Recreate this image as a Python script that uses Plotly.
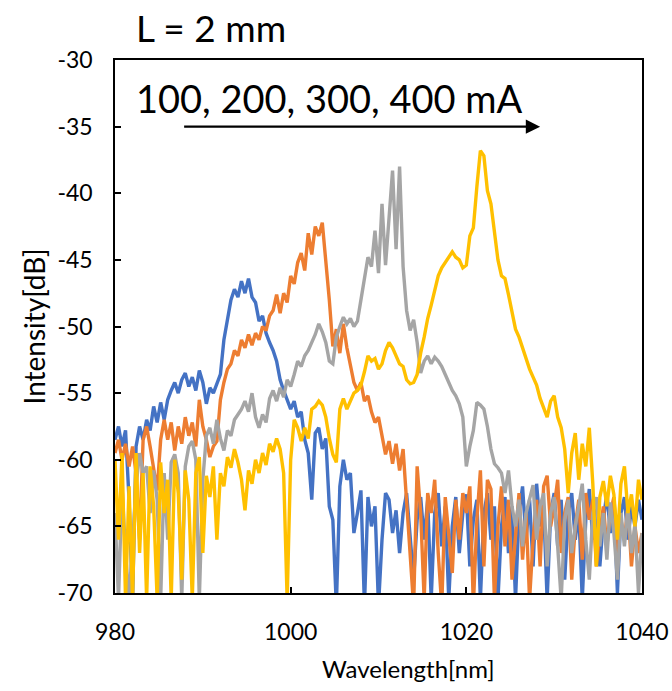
import numpy as np
import plotly.graph_objects as go

# Wavelength sampling (nm)
wavelength = np.round(np.arange(980.0, 1040.0001, 0.4), 1)

# Spectra in dB for each drive current
i_100mA = [
    -58.5, -57.5, -59, -57.8, -63, -70.5, -59, -57.5, -58.5, -57,
    -57.8, -56, -57.2, -55.7, -57, -55.5, -54.8, -54.2, -55, -54,
    -53.5, -54.5, -53.8, -54.8, -53.3, -54.2, -55.8, -54.6, -55, -54.2,
    -53.6, -51, -49.5, -48, -47.2, -47.8, -46.6, -47.5, -46.4, -47.8,
    -48.2, -49.6, -49.2, -50.5, -51.2, -51.8, -52.6, -54, -54.8, -55.5,
    -56.2, -55.6, -56.8, -56.4, -58.5, -59.5, -63, -58, -57.6, -59.2,
    -58.4, -63.5, -64.5, -71, -62, -60, -61.5, -61, -65.5, -64,
    -62.3, -71, -62.8, -65, -63.5, -71, -66, -62.5, -63, -65.5,
    -63.8, -67, -64, -62.5, -66, -69, -64.5, -62.8, -66, -63,
    -70.5, -64, -62.5, -66.5, -63.5, -70.5, -65, -62.8, -67, -64,
    -62.6, -68, -64.5, -63, -70.5, -64, -62.5, -66, -63.5, -70.5,
    -65, -62.8, -67, -63.5, -70.5, -64, -62, -66, -63, -68,
    -61.8, -65, -63.5, -70.5, -64, -62.5, -66.5, -63, -69, -64,
    -62.5, -66, -63.8, -70.5, -64.5, -62.2, -66, -63, -68, -64.5,
    -62.5, -65.5, -63, -70, -64, -62.8, -66, -63.5, -65, -63,
    -64.5,
]

i_200mA = [
    -59.5, -58.5, -60, -58.8, -60.5, -59, -61, -66, -58.5, -57.5,
    -59, -60.5, -62.3, -58.5, -57, -58.5, -57.2, -59.3, -57.5, -58.8,
    -56.8, -58.2, -57.2, -59, -55.5, -57.5, -58.5, -59.8, -59, -58.6,
    -55.5, -54.2, -53.2, -52.8, -51.8, -52.2, -51, -51.6, -50.6, -51.4,
    -50.5, -51, -50, -50.3, -49.2, -48.8, -47.6, -49, -47.5, -48.2,
    -46.2, -46.8, -45.2, -44.5, -45.8, -43, -44.6, -42.5, -43.2, -42.2,
    -44.8, -48, -51.5, -50.2, -52, -49.8, -51.6, -53, -54.2, -54.8,
    -54.2, -55.6, -55.2, -56.4, -57.2, -56.8, -58.2, -59.6, -58.6, -60.3,
    -58.8, -60.8, -59.2, -63, -66.5, -71, -60.5, -64, -70.5, -62.5,
    -64, -61.5, -67, -71, -62.8, -65.5, -68.5, -63, -66, -62.5,
    -64, -62, -71, -64.5, -60.8, -68, -61.5, -62.2, -70.5, -65,
    -62, -66.5, -63, -69, -65.5, -62.5, -67.5, -64, -70.5, -66,
    -63, -68, -62, -61.2, -65, -63.5, -61.5, -67, -64, -62.8,
    -69, -65, -63, -67.5, -62.5, -64.5, -63, -68, -65.5, -63.5,
    -66.5, -64, -62.8, -67, -64.5, -66, -63.5, -68, -65, -67,
    -65.5,
]

i_300mA = [
    -64, -70.5, -62, -67, -70.5, -66, -62, -59.5, -61, -60.5,
    -64, -60.8, -63, -70.5, -61, -66, -60.2, -59.6, -61, -70.5,
    -60.5, -59, -58.6, -60, -70.5, -61.5, -58.2, -57.6, -58.8, -57,
    -58.4, -59.3, -57.8, -58.2, -57, -56.6, -56.2, -55.6, -56.4, -55,
    -56.8, -57.6, -56.6, -57.2, -55.4, -54.8, -55.6, -54.6, -55.3, -54,
    -54.5, -53.6, -52.6, -53, -52.2, -51.8, -51.2, -50.6, -49.8, -50.4,
    -51.2, -52.6, -52.8, -50.8, -50, -49.3, -49.8, -49.4, -50, -49.6,
    -48, -46.5, -44.8, -45.5, -42.8, -46, -40.8, -45.4, -41.5, -38.3,
    -44.2, -38, -45.5, -48.8, -50.3, -49.5, -51.2, -53.5, -52.6, -52.2,
    -52.8, -52.3, -52.6, -53, -53.6, -54.2, -54.8, -55.2, -55.8, -56.8,
    -60.5, -59, -57.8, -55.7, -55.9, -56.2, -57.5, -59.2, -60.3, -60.6,
    -61, -62.5, -60.8, -63.5, -65, -63, -66.5, -64, -63, -61.9,
    -66, -63.5, -62.5, -68, -64, -62.8, -66.5, -70.5, -64.5, -63,
    -67, -65, -63.5, -61.8, -66, -69, -64, -62.8, -66.5, -64,
    -67.5, -63.2, -65.5, -69, -64, -66.5, -63.5, -67, -64.8, -70,
    -65.5,
]

i_400mA = [
    -60, -66, -59.5, -70.5, -62, -70.5, -59.5, -67, -61, -70.5,
    -60.5, -63.5, -70.5, -60.2, -64, -61.5, -70.5, -60, -62.5, -69,
    -60.8, -63, -70.5, -61, -59.8, -67, -61.2, -62.8, -60.5, -66,
    -61, -62, -59.8, -60.6, -59.2, -60.2, -61.5, -63.8, -60.8, -61.8,
    -60, -61, -59.5, -60.4, -58.8, -59.4, -58.4, -59.2, -61, -70.5,
    -60, -57, -57.6, -58.6, -57.6, -58.4, -56.2, -56, -55.6, -55.9,
    -56.8, -58.4, -59.6, -60.2, -56.2, -55.4, -56.2, -55.6, -55, -54.8,
    -54.4, -53.4, -52.2, -52.6, -52.4, -53.2, -52.8, -51.8, -51.2, -51.6,
    -52.2, -52.8, -53, -54, -54.3, -54.2, -53.6, -52, -50.8, -49.4,
    -48.4, -47.2, -46.2, -45.6, -45.2, -44.8, -44.4, -44.8, -45, -45.6,
    -45.4, -43.2, -42.6, -39.5, -36.8, -37.2, -39.8, -40.8, -42.8, -45,
    -46.2, -46.4, -47.6, -49, -50.2, -50.8, -51.6, -52.6, -53.2, -53.8,
    -54.4, -55.4, -56.2, -56.8, -55.6, -55.2, -56.8, -57.6, -59.2, -62.5,
    -59.5, -58, -61.5, -58.8, -60.5, -57.6, -61.8, -68, -62.8, -61.6,
    -63.5, -61.2, -62.6, -66, -61.8, -60.5, -64, -62.6, -65, -61.5,
    -63,
]

series = [
    ("100 mA", i_100mA, "#4472C4"),
    ("200 mA", i_200mA, "#ED7D31"),
    ("300 mA", i_300mA, "#A5A5A5"),
    ("400 mA", i_400mA, "#FFC000"),
]

x_ticks = [980, 1000, 1020, 1040]
y_ticks = [-70, -65, -60, -55, -50, -45, -40, -35, -30]

FONT = "Lato"

fig = go.Figure()
for name, vals, color in series:
    fig.add_trace(go.Scatter(
        x=wavelength, y=vals, mode="lines", name=name,
        line=dict(color=color, width=3.4),
    ))

fig.update_layout(
    width=672, height=691,
    margin=dict(l=115, r=30, t=60, b=98, autoexpand=False),
    paper_bgcolor="white", plot_bgcolor="white",
    showlegend=False,
    font=dict(family=FONT, color="black"),
)

fig.update_xaxes(
    range=[980, 1040], tickvals=x_ticks, ticktext=[str(v) for v in x_ticks],
    showgrid=False, zeroline=False, automargin=False,
    showline=True, mirror=True, linecolor="black", linewidth=1.5,
    ticks="inside", ticklen=6, tickwidth=1.5, tickcolor="black",
    tickfont=dict(size=23, family=FONT, color="black"),
    ticklabelstandoff=18,
)
fig.update_yaxes(
    range=[-70, -30], tickvals=y_ticks, ticktext=[str(v) for v in y_ticks],
    showgrid=False, zeroline=False, automargin=False,
    showline=True, mirror=True, linecolor="black", linewidth=1.5,
    ticks="inside", ticklen=6, tickwidth=1.5, tickcolor="black",
    tickfont=dict(size=23, family=FONT, color="black"),
    ticklabelstandoff=16,
)

# Axis titles
fig.add_annotation(
    text="Wavelength[nm]", xref="paper", yref="paper",
    x=(408 - 115) / 527, y=-(668 - 593) / 533,
    showarrow=False, font=dict(size=24, family=FONT, color="black"),
    xanchor="center", yanchor="middle",
)
fig.add_annotation(
    text="Intensity[dB]", xref="paper", yref="paper",
    x=-(115 - 33) / 527, y=0.5, textangle=-90,
    showarrow=False, font=dict(size=28, family=FONT, color="black"),
    xanchor="center", yanchor="middle",
)

# Device length label and current sweep label
fig.add_annotation(
    text="L = 2 mm", xref="paper", yref="paper",
    x=(134 - 115) / 527, y=1 + (60 - 27) / 533,
    showarrow=False, font=dict(size=37, family=FONT, color="black"),
    xanchor="left", yanchor="middle",
)
fig.add_annotation(
    text="100, 200, 300, 400 mA", xref="paper", yref="paper",
    x=(134 - 115) / 527, y=1 - (98 - 60) / 533,
    showarrow=False, font=dict(size=38, family=FONT, color="black"),
    xanchor="left", yanchor="middle",
)

# Arrow indicating increasing current
fig.add_annotation(
    x=1028.4, y=-35, ax=987.7, ay=-35,
    xref="x", yref="y", axref="x", ayref="y",
    text="", showarrow=True, arrowhead=2, arrowsize=1.3,
    arrowwidth=2.2, arrowcolor="black", standoff=0, startstandoff=0,
)

fig.write_html("out.html")
